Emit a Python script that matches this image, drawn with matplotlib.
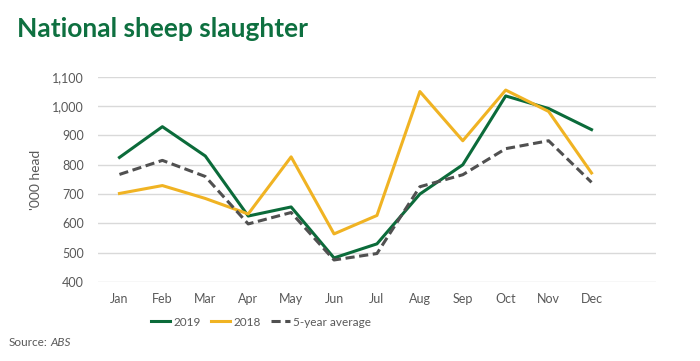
#!/usr/bin/env python3
import numpy as np
import matplotlib
matplotlib.use("Agg")
import matplotlib.pyplot as plt

# %% data
months = ['Jan', 'Feb', 'Mar', 'Apr', 'May', 'Jun', 'Jul', 'Aug', 'Sep', 'Oct', 'Nov', 'Dec']
y2019 = [825, 930, 830, 625, 656, 482, 530, 700, 800, 1035, 992, 920]
y2018 = [702, 729, 685, 632, 827, 564, 627, 1050, 882, 1055, 982, 772]
avg5 = [767, 815, 760, 598, 637, 475, 497, 725, 766, 855, 882, 740]
yticks = [400, 500, 600, 700, 800, 900, 1000, 1100]

green = '#0b6b3a'
gold = '#f0b323'
grey = '#505050'
text_grey = '#595959'

plt.rcParams['font.family'] = ['Lato', 'DejaVu Sans']

# %% figure
fig = plt.figure(figsize=(7, 3.61), dpi=100)
ax = fig.add_axes([0.14, 0.219, 0.797, 0.568])
x = np.arange(len(months))

ax.plot(x, y2019, color=green, lw=2.2, label='2019')
ax.plot(x, y2018, color=gold, lw=2.2, label='2018')
ax.plot(x, avg5, color=grey, lw=2.2, ls=(0, (3, 1.5)), label='5-year average')

ax.set_xlim(-0.5, 12.5)
ax.set_ylim(400, 1100)
ax.set_xticks(x)
ax.set_xticklabels(months)
ax.set_yticks(yticks)
ax.set_yticklabels([f'{v:,}' for v in yticks])
ax.tick_params(length=0, labelsize=9, colors=text_grey, pad=8)
ax.tick_params(axis='y', pad=10)
ax.grid(axis='y', color='#d9d9d9', lw=1)
ax.set_axisbelow(True)
for s in ax.spines.values():
    s.set_visible(False)
ax.set_ylabel("'000 head", fontsize=10, color=text_grey)
ax.yaxis.set_label_coords(-0.1, 0.5)

fig.legend(loc='center', bbox_to_anchor=(0.373, 0.108), ncol=3, frameon=False,
           fontsize=8.5, labelcolor=text_grey, handlelength=1.6, handletextpad=0.25,
           columnspacing=0.9)

fig.text(0.024, 0.92, 'National sheep slaughter', fontsize=19, fontweight='bold',
         color='#0e7040', va='center', ha='left')

# source line: plain prefix, italic name placed right after it
src = fig.text(0.012, 0.052, 'Source:', fontsize=8.5, color=text_grey, va='center')
fig.canvas.draw()
bb = src.get_window_extent()
fig.text(bb.x1 / fig.bbox.width + 0.005, 0.052, 'ABS', fontsize=8.5, color=text_grey,
         va='center', style='italic')

fig.savefig('out.png', dpi=100)
